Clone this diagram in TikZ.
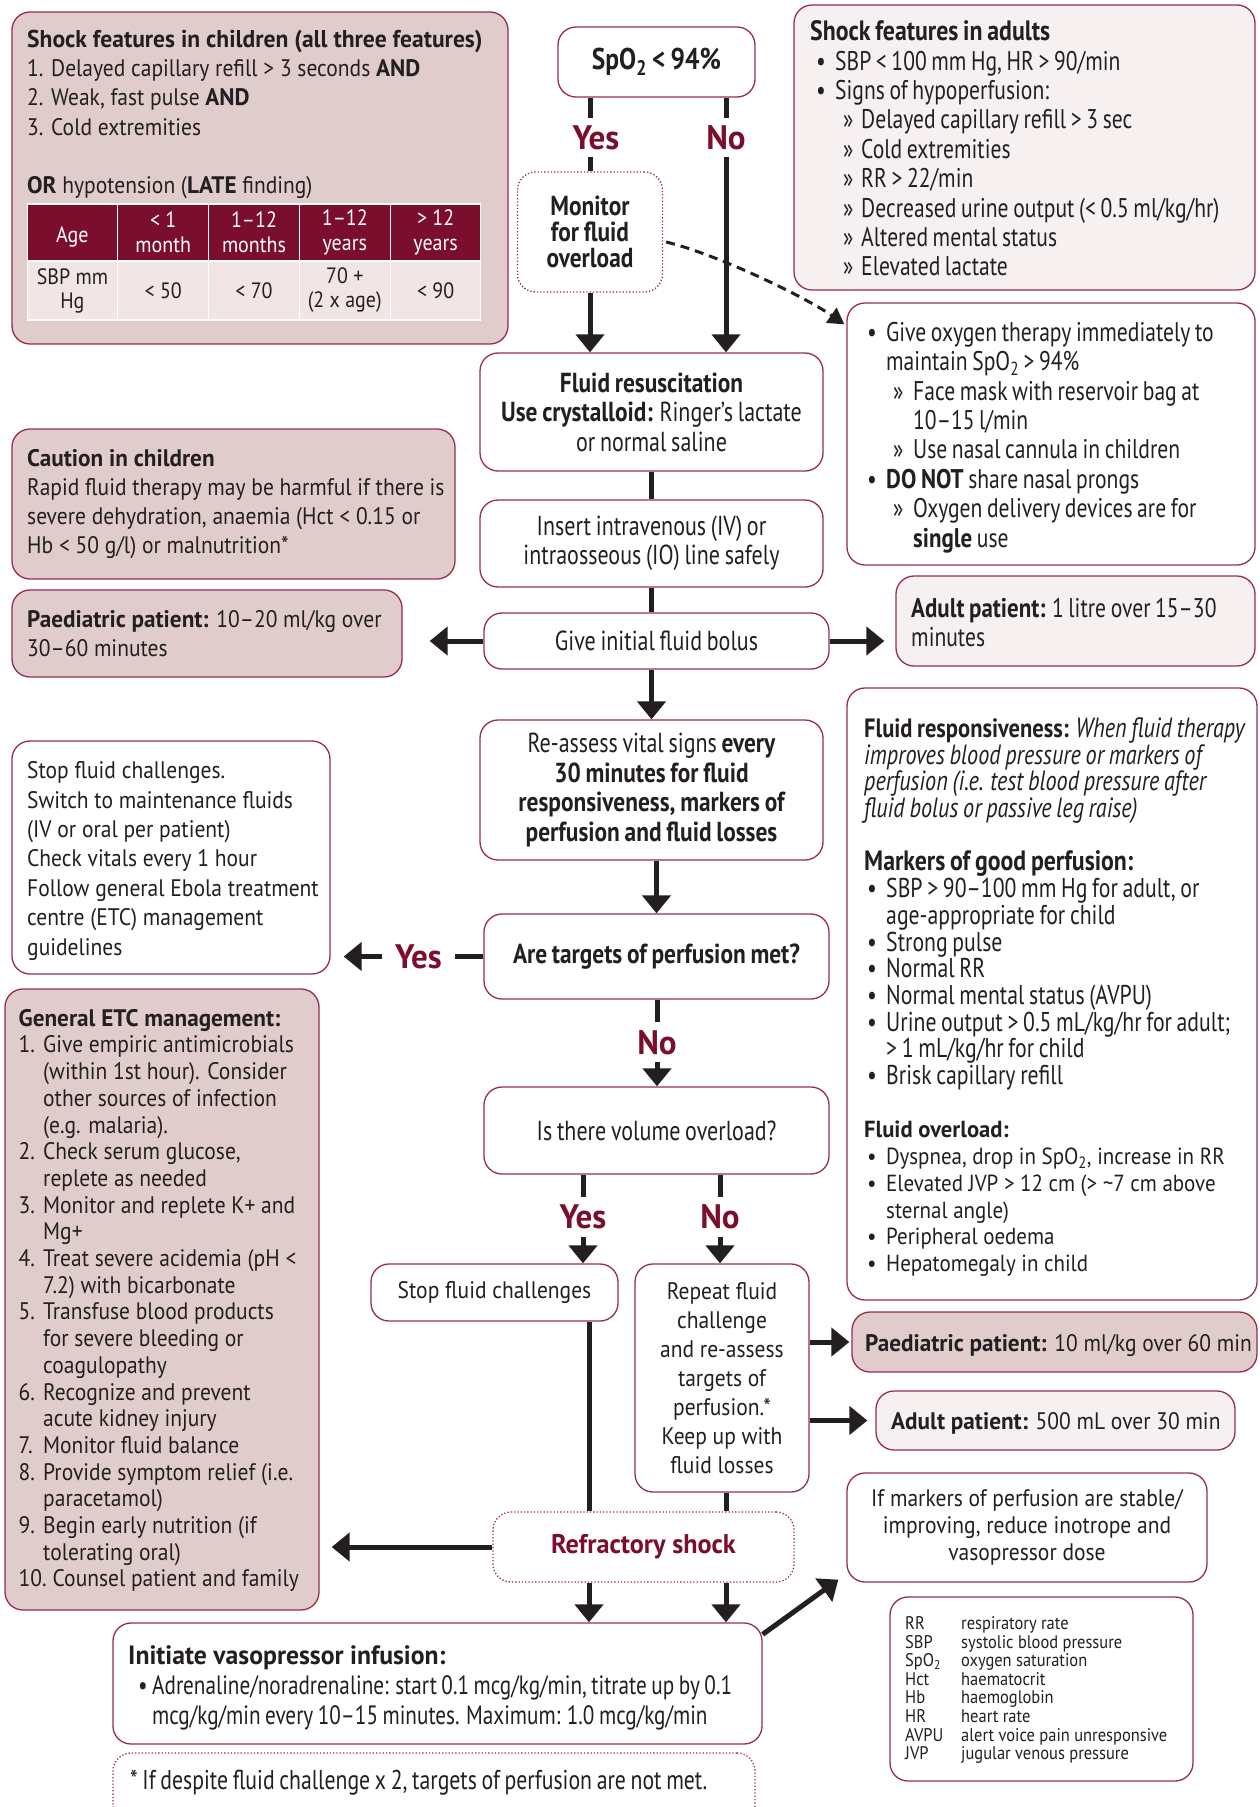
\documentclass[tikz,border=0pt]{standalone}
\usepackage{fontspec}
\setmainfont{PT Sans}[FakeStretch=0.9, BoldFeatures={FakeStretch=0.97}]
\newfontfamily\cnd{PT Sans}[FakeStretch=0.8, WordSpace=0.8, BoldFeatures={FakeStretch=0.85}]
\usetikzlibrary{arrows.meta,calc}
\definecolor{dred}{RGB}{122,14,44}
\definecolor{bord}{RGB}{150,45,80}
\definecolor{pinkf}{RGB}{225,204,204}
\definecolor{lightf}{RGB}{246,240,240}
\definecolor{tbody}{RGB}{241,229,229}
\definecolor{ink}{RGB}{35,31,32}
\newcommand\fF{\fontsize{23.9}{29}\selectfont}
\newcommand\fFt{\fontsize{23.9}{26.7}\selectfont}
\newcommand\fO{\rmfamily\fontsize{23.3}{26.7}\selectfont}
\newcommand\fC{\cnd\fontsize{27.5}{29.4}\selectfont}
\newcommand\fCi{\cnd\fontsize{27}{29.4}\selectfont}
\newcommand\fCt{\cnd\fontsize{27.2}{26.7}\selectfont}
\newcommand\fCv{\cnd\fontsize{26.5}{30}\selectfont}
\newcommand\tsub[1]{\textsubscript{#1}}
\newcommand\itm[3]{\hspace*{#1pt}\makebox[#2pt][l]{#3}}
\begin{document}
\begin{tikzpicture}[x=1pt,y=-1pt,
  box/.style={draw=bord, line width=1.3pt, rounded corners=18pt, fill=white, inner sep=0pt, text=ink},
  pinkbox/.style={box, fill=pinkf},
  lightbox/.style={box, fill=lightf},
  dotbox/.style={box, dotted},
  tx/.style={anchor=west, inner sep=0pt, align=left, text=ink},
  ln/.style={draw=ink, line width=5pt},
  arr/.style={draw=ink, line width=5pt, -{Triangle[length=18pt,width=28pt]}},
  yn/.style={text=dred, font=\bfseries\fontsize{34}{34}\selectfont, inner sep=0pt},
  hdr/.style={fill=dred, text=white, minimum width=89.5pt, minimum height=55pt, inner sep=0pt, align=center, font=\fontsize{22.2}{25}\selectfont},
  bdy/.style={fill=tbody, text=ink, minimum width=89.5pt, minimum height=57pt, inner sep=0pt, align=center, font=\fontsize{22.2}{24}\selectfont},
]
\useasboundingbox (0,0) rectangle (1260,1807);
\clip (0,0) rectangle (1260,1807);

% ---------- children shock box ----------
\node[pinkbox, minimum width=496pt, minimum height=332pt] (kids) at (260,178) {};
\node[anchor=north west, inner sep=0pt, align=left, font=\fontsize{23.9}{29.2}\selectfont, text=ink] (kidst) at (27,30)
{{\bfseries\fontsize{24.3}{29.2}\selectfont Shock features in children (all three features)}\\
1. Delayed capillary refill > 3 seconds {\bfseries AND}\\
2. Weak, fast pulse {\bfseries AND}\\
3. Cold extremities\\
\mbox{}\\
{\bfseries OR} hypotension ({\bfseries LATE} finding)};
\node[fill=white, minimum width=454pt, minimum height=118pt, inner sep=0pt] (tblbg) at (254,262) {};
\node[hdr] (h1) at (72.4,232.5) {\mbox{}\\Age};
\node[hdr] (h2) at (163.2,232.5) {< 1\\month};
\node[hdr] (h3) at (254,232.5) {1–12\\months};
\node[hdr] (h4) at (344.8,232.5) {1–12\\years};
\node[hdr] (h5) at (435.6,232.5) {> 12\\years};
\node[bdy] (b1) at (72.4,290.5) {SBP mm\\Hg};
\node[bdy] (b2) at (163.2,290.5) {< 50};
\node[bdy] (b3) at (254,290.5) {< 70};
\node[bdy] (b4) at (344.8,290.5) {70 +\\(2 x age)};
\node[bdy] (b5) at (435.6,290.5) {< 90};

% ---------- adult shock box ----------
\node[lightbox, minimum width=461pt, minimum height=285pt] (adsh) at (1024.5,147.5) {};
\node[tx, font=\fCi] (adsht) at (810,148.5)
{{\bfseries\fontsize{28}{29.4}\selectfont Shock features in adults}\\
\itm{6}{19}{•}SBP < 100 mm Hg, HR > 90/min\\
\itm{6}{19}{•}Signs of hypoperfusion:\\
\itm{33}{18}{»}Delayed capillary refill > 3 sec\\
\itm{33}{18}{»}Cold extremities\\
\itm{33}{18}{»}RR > 22/min\\
\itm{33}{18}{»}Decreased urine output (< 0.5 ml/kg/hr)\\
\itm{33}{18}{»}Altered mental status\\
\itm{33}{18}{»}Elevated lactate};

% ---------- top flow ----------
\node[box, minimum width=197pt, minimum height=70pt, font=\cnd\bfseries\fontsize{30}{30}\selectfont] (spo) at (656.5,62) {SpO\tsub{2} < 94\%};
\node[yn] (yes1) at (596,138) {Yes};
\node[yn] (no1) at (726,138) {No};
\node[dotbox, minimum width=145pt, minimum height=120pt, align=center, font=\cnd\bfseries\fontsize{27.5}{26}\selectfont] (mon) at (590,232) {Monitor\\for fluid\\overload};

\node[box, minimum width=343pt, minimum height=118pt, align=center, font=\fC] (fluid) at (651.5,412)
{{\bfseries Fluid resuscitation}\\{\bfseries Use crystalloid:} Ringer’s lactate\\or normal saline};

\node[box, minimum width=408pt, minimum height=262pt] (oxy) at (1051,434) {};
\node[tx, font=\fCi] (oxyt) at (867,437.5)
{\itm{0}{19}{•}Give oxygen therapy immediately to\\
\hspace*{19pt}maintain SpO\tsub{2} > 94\%\\
\itm{26}{20}{»}Face mask with reservoir bag at\\
\hspace*{46pt}10–15 l/min\\
\itm{26}{20}{»}Use nasal cannula in children\\
\itm{0}{19}{•}{\bfseries DO NOT} share nasal prongs\\
\itm{26}{20}{»}Oxygen delivery devices are for\\
\hspace*{46pt}{\bfseries single} use};

\node[pinkbox, minimum width=443pt, minimum height=150pt] (caut) at (233.5,504) {};
\node[tx, font=\fontsize{23.9}{29.2}\selectfont] (cautt) at (27,504)
{{\bfseries Caution in children}\\Rapid fluid therapy may be harmful if there is\\severe dehydration, anaemia (Hct < 0.15 or\\Hb < 50 g/l) or malnutrition*};

\node[box, minimum width=343pt, minimum height=87pt, align=center, font=\fC] (iv) at (651.5,543.5) {Insert intravenous (IV) or\\intraosseous (IO) line safely};

\node[pinkbox, minimum width=390pt, minimum height=87pt] (paed1) at (207,633.5) {};
\node[tx, font=\fF] (paed1t) at (27,634) {{\bfseries Paediatric patient:} 10–20 ml/kg over\\30–60 minutes};
\node[box, minimum width=345pt, minimum height=56pt, font=\fC] (bolus) at (656.5,641) {Give initial fluid bolus};
\node[lightbox, minimum width=359pt, minimum height=90pt] (adult1) at (1075.5,621) {};
\node[tx, font=\fCi] (adult1t) at (911,622.5) {{\bfseries Adult patient:} 1 litre over 15–30\\minutes};

\node[box, minimum width=343pt, minimum height=140pt, align=center, font=\fC] (reas) at (651.5,790)
{Re-assess vital signs {\bfseries every}\\{\bfseries 30 minutes for fluid}\\{\bfseries responsiveness, markers of}\\{\bfseries perfusion and fluid losses}};

\node[box, minimum width=318pt, minimum height=233pt] (stopL) at (171,857.5) {};
\node[tx, font=\fontsize{23.9}{29.4}\selectfont] (stopLt) at (27,861)
{Stop fluid challenges.\\Switch to maintenance fluids\\(IV or oral per patient)\\Check vitals every 1 hour\\Follow general Ebola treatment\\centre (ETC) management\\guidelines};

\node[box, minimum width=410pt, minimum height=612pt] (resp) at (1052,994) {};
\node[tx, font=\fCt] (respt) at (864,997)
{{\bfseries\fontsize{26.5}{26.7}\selectfont Fluid responsiveness:} {\itshape\fontsize{27.8}{26.7}\selectfont When fluid therapy}\\
{\itshape\fontsize{27.8}{26.7}\selectfont improves blood pressure or markers of}\\
{\itshape\fontsize{27.8}{26.7}\selectfont perfusion (i.e. test blood pressure after}\\
{\itshape\fontsize{27.8}{26.7}\selectfont fluid bolus or passive leg raise)}\\
\mbox{}\\
{\bfseries\fontsize{28}{26.7}\selectfont Markers of good perfusion:}\\
\itm{3}{19}{•}SBP > 90–100 mm Hg for adult, or\\
\hspace*{22pt}age-appropriate for child\\
\itm{3}{19}{•}Strong pulse\\
\itm{3}{19}{•}Normal RR\\
\itm{3}{19}{•}Normal mental status (AVPU)\\
\itm{3}{19}{•}Urine output > 0.5 mL/kg/hr for adult;\\
\hspace*{22pt}> 1 mL/kg/hr for child\\
\itm{3}{19}{•}Brisk capillary refill\\
\mbox{}\\
{\fO\bfseries Fluid overload:}\\
{\fO\itm{3}{19}{•}Dyspnea, drop in SpO\tsub{2}, increase in RR}\\
{\fO\itm{3}{19}{•}Elevated JVP > 12 cm (> \textasciitilde 7 cm above}\\
{\fO\hspace*{22pt}sternal angle)}\\
{\fO\itm{3}{19}{•}Peripheral oedema}\\
{\fO\itm{3}{19}{•}Hepatomegaly in child}};

\node[box, minimum width=345pt, minimum height=85pt, font=\cnd\bfseries\fontsize{27.5}{29}\selectfont] (targ) at (656.5,956.5) {Are targets of perfusion met?};
\node[yn] (yes3) at (418.5,957) {Yes};
\node[yn] (no2) at (657,1043) {No};
\node[box, minimum width=345pt, minimum height=87pt, font=\fC] (vol) at (656.5,1130.5) {Is there volume overload?};
\node[yn] (yes4) at (583,1217) {Yes};
\node[yn] (no4) at (720,1217) {No};

\node[pinkbox, minimum width=314pt, minimum height=621pt] (etc) at (162,1299.5) {};
\node[tx, font=\fFt] (etct) at (18.5,1300.5)
{{\bfseries General ETC management:}\\
\itm{0}{24.5}{1.}Give empiric antimicrobials\\
\hspace*{24.5pt}(within 1st hour). Consider\\
\hspace*{24.5pt}other sources of infection\\
\hspace*{24.5pt}(e.g. malaria).\\
\itm{0}{24.5}{2.}Check serum glucose,\\
\hspace*{24.5pt}replete as needed\\
\itm{0}{24.5}{3.}Monitor and replete K+ and\\
\hspace*{24.5pt}Mg+\\
\itm{0}{24.5}{4.}Treat severe acidemia (pH <\\
\hspace*{24.5pt}7.2) with bicarbonate\\
\itm{0}{24.5}{5.}Transfuse blood products\\
\hspace*{24.5pt}for severe bleeding or\\
\hspace*{24.5pt}coagulopathy\\
\itm{0}{24.5}{6.}Recognize and prevent\\
\hspace*{24.5pt}acute kidney injury\\
\itm{0}{24.5}{7.}Monitor fluid balance\\
\itm{0}{24.5}{8.}Provide symptom relief (i.e.\\
\hspace*{24.5pt}paracetamol)\\
\itm{0}{24.5}{9.}Begin early nutrition (if\\
\hspace*{24.5pt}tolerating oral)\\
\itm{0}{34}{10.}Counsel patient and family};

\node[box, minimum width=247pt, minimum height=57pt, font=\fF] (stopS) at (494.5,1292.5) {Stop fluid challenges};
\node[box, minimum width=174pt, minimum height=228pt, align=center, font=\fF] (rep) at (722,1378)
{Repeat fluid\\challenge\\and re-assess\\targets of\\perfusion.*\\Keep up with\\fluid losses};
\node[pinkbox, minimum width=405pt, minimum height=60pt] (paed2) at (1054.5,1342) {};
\node[tx, font=\fF] (paed2t) at (865,1345.5) {{\bfseries Paediatric patient:} 10 ml/kg over 60 min};
\node[lightbox, minimum width=359pt, minimum height=59pt] (adult2) at (1055.5,1420.5) {};
\node[tx, font=\fF] (adult2t) at (891,1423.5) {{\bfseries Adult patient:} 500 mL over 30 min};
\node[box, minimum width=360pt, minimum height=109pt, align=center, font=\fontsize{23.9}{27}\selectfont] (ifm) at (1027,1527.5)
{If markers of perfusion are stable/\\improving, reduce inotrope and\\vasopressor dose};
\node[dotbox, minimum width=301pt, minimum height=70pt, font=\bfseries\fontsize{27}{27}\selectfont, text=dred] (refr) at (643.5,1547) {Refractory shock};

\node[box, minimum width=649pt, minimum height=121pt] (vaso) at (437.5,1683.5) {};
\node[tx, font=\fCv] (vasot) at (128,1688)
{{\rmfamily\bfseries\fontsize{26.5}{30}\selectfont Initiate vasopressor infusion:}\\
\itm{10}{14}{•}Adrenaline/noradrenaline: start 0.1 mcg/kg/min, titrate up by 0.1\\
\hspace*{24pt}mcg/kg/min every 10–15 minutes. Maximum: 1.0 mcg/kg/min};

\node[dotbox, minimum width=642pt, minimum height=87pt] (foot) at (434,1796.5) {};
\node[tx, font=\cnd\fontsize{27.2}{30}\selectfont] (foott) at (130,1783) {* If despite fluid challenge x 2, targets of perfusion are not met.};

\node[box, minimum width=303pt, minimum height=184pt] (leg) at (1041.5,1689) {};
\node[tx, font=\fontsize{18.3}{18.6}\selectfont] (legt) at (905,1690)
{\makebox[56pt][l]{RR}respiratory rate\\
\makebox[56pt][l]{SBP}systolic blood pressure\\
\makebox[56pt][l]{SpO\tsub{2}}oxygen saturation\\
\makebox[56pt][l]{Hct}haematocrit\\
\makebox[56pt][l]{Hb}haemoglobin\\
\makebox[56pt][l]{HR}heart rate\\
\makebox[56pt][l]{AVPU}alert voice pain unresponsive\\
\makebox[56pt][l]{JVP}jugular venous pressure};

% ---------- connectors ----------
\draw[ln] (spo.south -| mon.north) -- ($(yes1.north -| mon.north)+(0,-8)$);
\draw[ln] ($(yes1.south -| mon.north)+(0,7)$) -- (mon.north);
\draw[arr] (mon.south) -- (mon.south |- fluid.north);
\draw[ln] (spo.south -| no1.north) -- ($(no1.north)+(0,-8)$);
\draw[arr] ($(no1.south)+(0,7)$) -- (no1.south |- fluid.north);
\coordinate (dS) at ($(mon.east)+(3,10)$);
\coordinate (dE) at ($(oxy.north west)+(-2,22)$);
\draw[draw=ink, line width=3pt, dash pattern=on 9pt off 6pt, -{Triangle[length=16pt,width=18pt]}]
  (dS) .. controls ($(dS)+(50,12)$) and ($(dE)+(-40,-28)$) .. (dE);

\draw[ln] (fluid.south) -- (iv.north);
\draw[ln] (iv.south) -- (iv.south |- bolus.north);
\draw[arr, shorten >=27pt] (bolus.west) -- (bolus.west -| paed1.east);
\draw[arr, shorten >=11pt] (bolus.east) -- (bolus.east -| adult1.west);
\draw[arr] (bolus.south -| reas.north) -- (reas.north);
\draw[arr] (reas.south -| targ.north) -- (targ.north);

\draw[ln] (targ.west) -- ($(yes3.east |- targ.west)+(13,0)$);
\draw[arr, shorten >=13pt] ($(yes3.west |- targ.west)+(-13,0)$) -- (stopL.east |- targ.west);
\draw[ln] (targ.south -| no2.north) -- ($(no2.north)+(0,-9)$);
\draw[arr] ($(no2.south)+(0,7)$) -- (no2.south |- vol.north);

\draw[ln] (vol.south -| yes4.north) -- ($(yes4.north)+(0,-8)$);
\draw[arr] ($(yes4.south)+(0,8)$) -- (yes4.south |- stopS.north);
\draw[ln] (vol.south -| no4.north) -- ($(no4.north)+(0,-8)$);
\draw[arr] ($(no4.south)+(0,8)$) -- (no4.south |- rep.north);

\draw[arr, shorten >=2pt] (rep.east |- paed2.west) -- (paed2.west);
\draw[arr, shorten >=8pt] (rep.east |- adult2.west) -- (adult2.west);

\coordinate (c1) at (589,0);
\coordinate (c2) at (726,0);
\draw[ln] (stopS.south -| c1) -- (refr.north -| c1);
\draw[ln] (rep.south -| c2) -- (refr.north -| c2);
\draw[arr] (refr.south -| c1) -- (vaso.north -| c1);
\draw[arr] (refr.south -| c2) -- (vaso.north -| c2);
\draw[arr, shorten >=12pt] (refr.west) -- (refr.west -| etc.east);
\draw[arr] ($(vaso.north east)+(0,12)$) -- ($(ifm.south west)+(-8,-3)$);
\end{tikzpicture}
\end{document}
